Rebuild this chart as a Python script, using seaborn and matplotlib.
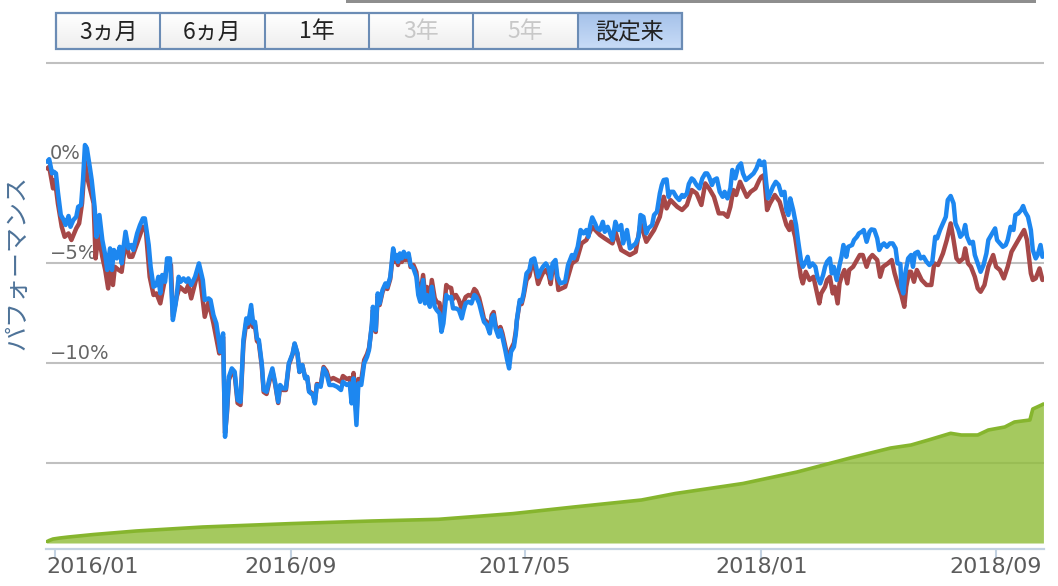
import numpy as np
import pandas as pd
import matplotlib
matplotlib.use("Agg")
import matplotlib.pyplot as plt
import matplotlib.dates as mdates
from matplotlib.transforms import blended_transform_factory
from matplotlib.patches import Rectangle
import seaborn as sns

# ---- data (days since 2016-01-01, performance in %) ----
blue_day = [
    -8, -6, -3, -1, 1, 3, 6, 9, 11, 14,
    16, 19, 22, 24, 27, 29, 31, 33, 36, 38,
    41, 43, 46, 49, 52, 54, 57, 59, 61, 64,
    67, 69, 71, 73, 76, 79, 81, 85, 88, 91,
    93, 97, 99, 102, 105, 107, 109, 111, 114, 116,
    119, 122, 125, 128, 130, 133, 136, 138, 141, 145,
    149, 153, 155, 159, 161, 164, 167, 170, 171, 174,
    176, 178, 180, 183, 186, 189, 192, 195, 198, 200,
    203, 205, 207, 209, 211, 214, 216, 219, 222, 225,
    228, 231, 233, 236, 239, 242, 246, 248, 251, 253,
    256, 259, 261, 263, 267, 269, 271, 275, 278, 281,
    284, 288, 292, 296, 298, 302, 305, 307, 309, 312,
    314, 317, 320, 323, 325, 328, 329, 332, 334, 336,
    339, 342, 344, 347, 350, 352, 354, 355, 357, 359,
    361, 363, 366, 368, 371, 374, 376, 378, 381, 383,
    385, 388, 390, 393, 395, 398, 400, 402, 405, 407,
    410, 412, 415, 418, 421, 423, 425, 428, 431, 434,
    436, 439, 442, 444, 447, 450, 452, 454, 456, 459,
    461, 463, 466, 468, 470, 472, 475, 477, 478, 481,
    483, 485, 488, 491, 493, 496, 498, 500, 503, 505,
    508, 511, 513, 515, 518, 520, 523, 528, 531, 535,
    537, 541, 544, 547, 550, 552, 554, 556, 559, 561,
    564, 567, 569, 572, 574, 577, 580, 583, 586, 588,
    590, 592, 595, 599, 601, 604, 606, 609, 612, 614,
    618, 620, 623, 626, 628, 630, 633, 635, 637, 640,
    643, 646, 649, 651, 654, 656, 659, 661, 664, 667,
    670, 673, 675, 677, 680, 682, 685, 688, 691, 693,
    696, 699, 701, 704, 707, 710, 712, 715, 719, 723,
    726, 729, 731, 734, 736, 738, 741, 743, 746, 749,
    752, 755, 757, 759, 761, 764, 767, 769, 772, 774,
    777, 779, 781, 784, 787, 789, 792, 795, 797, 799,
    802, 804, 806, 809, 812, 814, 816, 819, 821, 825,
    827, 830, 832, 835, 837, 840, 843, 845, 848, 851,
    853, 856, 858, 861, 864, 867, 870, 872, 875, 876,
    878, 880, 883, 886, 888, 890, 893, 896, 899, 902,
    905, 908, 911, 913, 916, 919, 922, 924, 927, 930,
    932, 935, 937, 940, 942, 944, 947, 950, 952, 955,
    958, 961, 964, 966, 969, 973, 975, 978, 981, 984,
    986, 989, 992, 994, 997, 1000, 1002, 1004, 1007, 1010,
    1012, 1015, 1017, 1020, 1022,
]
blue_pct = [
    0.07, 0.19, -0.52, -0.44, -0.52, -1.44, -2.6, -2.85, -3.1, -2.65,
    -3.19, -2.85, -2.69, -2.19, -2.1, -0.85, 0.9, 0.74, -0.19, -0.85,
    -2.19, -3.69, -2.6, -3.85, -4.6, -5.35, -4.27, -5.35, -4.35, -4.77,
    -4.19, -5.02, -4.19, -3.44, -4.27, -4.1, -4.35, -3.52, -3.1, -2.77,
    -2.77, -4.1, -5.19, -6.19, -6.1, -5.69, -6.52, -5.6, -5.94, -4.77,
    -4.77, -7.85, -7.02, -5.69, -5.94, -5.77, -5.94, -5.77, -6.1, -5.69,
    -5.02, -5.85, -6.85, -6.77, -6.85, -7.6, -8.02, -9.02, -9.44, -8.52,
    -13.69, -12.35, -10.69, -10.27, -10.44, -11.85, -11.94, -8.85, -7.77, -8.02,
    -7.1, -8.02, -7.94, -8.77, -8.85, -10.02, -11.35, -11.44, -10.77, -10.27,
    -11.02, -11.94, -11.1, -11.27, -11.27, -10.02, -9.52, -9.02, -9.52, -10.44,
    -10.1, -10.77, -10.69, -11.44, -11.6, -12.02, -11.1, -11.19, -10.27, -10.52,
    -11.1, -11.1, -11.19, -11.35, -10.94, -11.1, -11.02, -12.02, -10.77, -13.1,
    -11.02, -11.1, -10.02, -9.69, -9.35, -8.02, -7.19, -8.35, -6.52, -7.02,
    -6.35, -6.02, -6.19, -5.7, -4.27, -4.77, -4.6, -4.94, -4.52, -4.77,
    -4.44, -4.69, -4.52, -5.1, -5.27, -5.69, -6.6, -6.94, -5.85, -7.02,
    -6.6, -7.19, -6.19, -7.19, -7.35, -7.52, -8.44, -8.02, -6.6, -6.77,
    -6.69, -7.27, -7.27, -7.35, -7.77, -7.35, -7.02, -6.94, -7.02, -6.6,
    -6.69, -7.02, -7.6, -7.94, -8.1, -8.52, -7.77, -7.6, -8.27, -8.69,
    -8.35, -8.69, -9.35, -9.85, -10.27, -9.44, -9.19, -8.52, -7.85, -6.85,
    -6.94, -6.52, -5.52, -5.35, -4.85, -4.77, -5.19, -5.69, -5.35, -5.19,
    -5.02, -5.27, -5.77, -5.02, -4.85, -5.69, -6.02, -5.94, -5.1, -4.6,
    -4.77, -4.19, -3.35, -3.52, -3.35, -3.69, -3.1, -2.72, -3.02, -3.27,
    -3.35, -2.94, -3.44, -3.19, -3.44, -3.85, -2.94, -3.35, -3.1, -4.02,
    -3.69, -3.35, -4.27, -4.1, -4.02, -3.69, -2.6, -2.69, -3.52, -3.27,
    -3.1, -2.6, -2.44, -1.52, -1.1, -0.85, -0.82, -1.69, -1.44, -1.44,
    -1.69, -1.85, -1.6, -1.69, -1.52, -1.05, -0.77, -0.85, -1.1, -1.27,
    -0.77, -0.52, -0.52, -0.69, -1.1, -0.85, -0.77, -1.44, -1.69, -1.44,
    -1.77, -1.27, -0.35, -0.77, -0.19, -0.02, -0.52, -0.85, -0.69, -0.52,
    -0.27, 0.12, -0.1, 0.07, -0.94, -1.77, -1.44, -1.19, -0.94, -1.1,
    -1.6, -1.44, -2.35, -2.6, -1.77, -2.35, -3.1, -3.85, -4.85, -5.19,
    -4.94, -4.69, -5.19, -5.02, -5.19, -5.69, -6.02, -5.6, -5.19, -4.94,
    -4.77, -5.52, -5.19, -5.85, -5.1, -4.69, -4.1, -4.69, -4.19, -4.1,
    -3.85, -3.69, -3.52, -3.44, -3.35, -3.94, -3.44, -3.32, -3.35, -3.77,
    -4.35, -4.1, -4.02, -4.19, -4.02, -4.02, -4.27, -5.02, -5.05, -6.19,
    -6.52, -5.52, -4.77, -4.6, -5.19, -4.52, -4.44, -4.77, -4.69, -4.94,
    -5.1, -4.94, -3.69, -3.77, -3.35, -3.02, -2.69, -1.85, -1.65, -2.02,
    -3.02, -3.35, -3.69, -3.52, -3.1, -3.69, -4.02, -3.94, -4.6, -5.02,
    -5.44, -5.1, -4.52, -3.85, -3.6, -3.27, -3.85, -4.02, -4.19, -4.1,
    -3.85, -3.19, -3.35, -2.6, -2.52, -2.35, -2.15, -2.44, -2.69, -3.35,
    -4.35, -4.77, -4.6, -4.1, -4.69,
]

red_day = [
    -8, -6, -2, 0, 3, 7, 10, 14, 17, 22,
    25, 28, 31, 34, 40, 42, 45, 49, 52, 55,
    57, 60, 62, 66, 69, 73, 77, 80, 85, 91,
    94, 98, 102, 105, 109, 113, 116, 120, 122, 126,
    129, 135, 138, 141, 149, 155, 159, 164, 170, 174,
    176, 178, 180, 183, 186, 189, 192, 195, 198, 200,
    203, 205, 207, 209, 211, 214, 216, 219, 222, 225,
    228, 231, 233, 236, 239, 242, 246, 248, 251, 253,
    256, 259, 261, 263, 267, 269, 271, 275, 278, 281,
    284, 288, 292, 296, 298, 302, 305, 307, 309, 312,
    314, 317, 320, 323, 325, 328, 329, 332, 334, 336,
    339, 342, 344, 347, 350, 352, 354, 355, 357, 359,
    361, 363, 366, 368, 371, 374, 376, 378, 381, 383,
    385, 388, 390, 393, 395, 398, 400, 402, 405, 407,
    410, 412, 415, 418, 421, 423, 425, 428, 431, 434,
    436, 439, 442, 444, 447, 450, 452, 454, 456, 459,
    461, 463, 466, 468, 470, 472, 475, 477, 478, 481,
    483, 485, 488, 491, 493, 496, 498, 500, 503, 505,
    508, 511, 513, 515, 518, 521, 528, 535, 540, 545,
    550, 556, 564, 569, 577, 580, 586, 595, 601, 606,
    612, 620, 626, 630, 633, 637, 644, 649, 654, 659,
    664, 669, 673, 677, 682, 687, 692, 696, 699, 702,
    705, 709, 712, 716, 720, 725, 729, 731, 734, 737,
    740, 745, 750, 754, 757, 760, 762, 766, 769, 772,
    774, 777, 781, 785, 788, 791, 793, 797, 799, 802,
    805, 807, 810, 812, 814, 817, 820, 822, 826, 830,
    833, 836, 840, 843, 846, 851, 854, 857, 862, 866,
    869, 872, 876, 879, 881, 884, 886, 889, 892, 897,
    902, 907, 910, 914, 919, 923, 927, 930, 933, 936,
    940, 942, 945, 948, 952, 955, 958, 962, 966, 971,
    974, 978, 982, 986, 990, 994, 998, 1003, 1006, 1010,
    1012, 1015, 1019, 1022,
]
red_pct = [
    -0.27, -0.19, -1.27, -0.85, -2.02, -3.19, -3.69, -3.52, -3.85, -3.27,
    -3.02, -2.02, 0.07, -0.85, -2.02, -4.77, -3.6, -4.69, -5.35, -6.27,
    -5.35, -6.1, -5.19, -5.35, -5.44, -3.94, -4.69, -4.69, -4.02, -3.19,
    -3.35, -5.69, -6.6, -6.52, -7.02, -6.02, -5.1, -5.1, -7.69, -6.69,
    -6.19, -6.44, -6.1, -6.77, -5.27, -7.69, -6.94, -8.02, -9.52, -8.7,
    -13.5, -12.5, -10.85, -10.45, -10.6, -12.0, -12.1, -9.05, -7.95, -8.2,
    -7.3, -8.2, -8.1, -8.9, -9.0, -10.15, -11.45, -11.55, -10.9, -10.4,
    -11.1, -12.0, -11.2, -11.35, -11.35, -10.1, -9.55, -9.05, -9.55, -10.45,
    -10.1, -10.75, -10.7, -11.4, -11.55, -11.95, -11.05, -11.1, -10.2, -10.4,
    -10.85, -10.75, -10.85, -10.95, -10.65, -10.8, -10.75, -11.6, -10.5, -12.6,
    -10.8, -10.85, -9.85, -9.55, -9.25, -8.15, -7.35, -8.45, -6.65, -7.1,
    -6.45, -6.1, -6.3, -5.8, -4.45, -4.95, -4.8, -5.1, -4.7, -4.95,
    -4.6, -4.85, -4.65, -5.2, -5.1, -5.45, -6.3, -6.6, -5.6, -6.6,
    -6.2, -6.8, -5.85, -6.75, -6.95, -7.0, -7.9, -7.6, -6.1, -6.2,
    -6.25, -6.8, -6.6, -6.85, -7.3, -6.95, -6.7, -6.6, -6.65, -6.3,
    -6.4, -6.75, -7.35, -7.8, -7.95, -8.35, -7.6, -7.45, -8.1, -8.5,
    -8.2, -8.5, -9.15, -9.6, -9.9, -9.3, -9.0, -8.4, -7.9, -6.95,
    -7.05, -6.65, -5.85, -5.65, -5.2, -5.1, -5.55, -6.05, -5.7, -5.5,
    -5.35, -5.6, -6.05, -5.3, -5.15, -6.35, -6.19, -5.02, -4.85, -4.02,
    -3.85, -3.19, -3.6, -3.77, -4.02, -3.44, -4.35, -4.6, -4.44, -3.02,
    -3.94, -3.35, -2.69, -1.69, -2.27, -1.85, -2.19, -2.35, -2.1, -1.35,
    -1.52, -2.1, -1.02, -1.27, -1.69, -2.52, -2.52, -2.69, -2.19, -1.35,
    -1.6, -0.94, -1.27, -1.69, -1.44, -1.27, -0.85, -0.69, -0.6, -2.35,
    -2.02, -1.6, -1.94, -2.6, -3.1, -3.35, -2.94, -3.69, -4.69, -5.69,
    -6.02, -5.44, -5.85, -5.69, -6.35, -7.02, -6.52, -6.19, -5.85, -5.69,
    -6.52, -6.19, -7.02, -6.02, -5.69, -5.35, -6.02, -5.35, -5.19, -4.85,
    -4.6, -4.6, -5.19, -4.77, -4.6, -4.85, -5.69, -5.19, -5.02, -4.85,
    -5.52, -6.02, -6.6, -7.19, -6.19, -5.44, -5.44, -5.94, -5.35, -5.85,
    -6.1, -6.1, -5.02, -5.1, -4.52, -3.85, -3.02, -3.85, -4.77, -4.94,
    -4.77, -4.27, -5.02, -5.19, -5.69, -6.27, -6.44, -6.1, -5.19, -4.6,
    -5.19, -5.35, -5.77, -5.19, -4.44, -4.1, -3.77, -3.35, -3.85, -5.52,
    -5.85, -5.77, -5.27, -5.85,
]

# net assets (second axis, arbitrary units)
green_day = [-9, -6, -2, 5, 14, 40, 84, 153, 244, 328,
             397, 474, 537, 607, 642, 712, 768, 823, 865, 886,
             904, 927, 938, 955, 966, 983, 993, 1009, 1012, 1021, 1023]
green_val = [0.1, 0.25, 0.4, 0.5, 0.6, 0.85, 1.2, 1.6, 1.94, 2.2,
             2.37, 2.94, 3.6, 4.3, 4.95, 5.95, 7.1, 8.5, 9.5, 9.8,
             10.3, 10.97, 10.8, 10.8, 11.3, 11.6, 12.1, 12.3, 13.4, 13.8, 13.9]

grid_vals = [5, 0, -5, -10, -15]
ylabel_vals = [0, -5, -10]
ylabel_text = ["0%", "−5%", "−10%"]
tick_dates = ["2016-01-01", "2016-09-01", "2017-05-01", "2018-01-01", "2018-09-01"]
tick_labels = ["2016/01", "2016/09", "2017/05", "2018/01", "2018/09"]
buttons = ["3ヵ月", "6ヵ月", "1年", "3年", "5年", "設定来"]
button_state = ["on", "on", "on", "off", "off", "sel"]

BLUE = "#1d87f0"
RED = "#a64848"

sns.set_style("white")
plt.rcParams["font.family"] = ["DejaVu Sans", "Noto Sans CJK JP"]
JP = ["Noto Sans CJK JP", "DejaVu Sans"]

base = pd.Timestamp("2016-01-01")


def to_dates(days):
    return base + pd.to_timedelta(days, unit="D")


W, H = 1058, 586
fig = plt.figure(figsize=(W / 100, H / 100), dpi=100)
ax = fig.add_axes([46 / W, 1 - 543 / H, 998 / W, 482 / H])

sns.lineplot(x=to_dates(red_day), y=red_pct, ax=ax, color=RED, linewidth=3.2,
             estimator=None, sort=False)
sns.lineplot(x=to_dates(blue_day), y=blue_pct, ax=ax, color=BLUE, linewidth=3.2,
             estimator=None, sort=False)
ax.set_xlabel("")
ax.set_ylabel("")
ax.set_ylim(-19.0, 5.1)
ax.set_xlim(to_dates([-9.3, 1023.6]))
ax.set_yticks(grid_vals)
ax.set_yticklabels([])
ax.yaxis.grid(True, color="#c0c0c0", linewidth=1.5)
ax.xaxis.grid(False)
ax.tick_params(axis="y", length=0)
ax.set_xticks(pd.to_datetime(tick_dates))
ax.tick_params(axis="x", bottom=True, direction="out", length=7, width=1.5,
               color="#c3d2e2", labelbottom=False)
for s in ["top", "left", "right"]:
    ax.spines[s].set_visible(False)
ax.spines["bottom"].set_position(("outward", 4.3))
ax.spines["bottom"].set_color("#c3d2e2")
ax.spines["bottom"].set_linewidth(1.6)

# y labels inside the plot, above the grid lines
ytr = blended_transform_factory(ax.transAxes, ax.transData)
for v, s in zip(ylabel_vals, ylabel_text):
    ax.text(0.004, v + 0.22, s, transform=ytr, ha="left", va="baseline",
            fontsize=14, color="#666666", zorder=1)

# x tick labels
xtr = blended_transform_factory(ax.transData, ax.transAxes)
for i, (d, s) in enumerate(zip(tick_dates, tick_labels)):
    xnum = mdates.date2num(pd.Timestamp(d))
    ha = "center"
    if i == 0:
        xnum = mdates.date2num(to_dates([-8.8])[0])
        ha = "left"
    ax.text(xnum, -(557 - 543) / 482, s, transform=xtr, ha=ha, va="top",
            fontsize=16, color="#5c5c5c")

# net assets area on a second axis
ax2 = ax.twinx()
gd = to_dates(green_day)
ax2.fill_between(gd, green_val, 0, color=(145 / 255, 189 / 255, 60 / 255),
                 alpha=0.82, linewidth=0)
ax2.plot(gd, green_val, color="#86b52e", linewidth=2.6)
ax2.set_ylim(0, 48.2)
ax2.set_yticks([])
for s in ax2.spines.values():
    s.set_visible(False)

# decorations in pixel coordinates
deco = fig.add_axes([0, 0, 1, 1], zorder=5)
deco.patch.set_visible(False)
deco.set_axis_off()

deco.add_patch(Rectangle((346, 0), 690, 2.6, color="#8e8e8e", lw=0))

bx0, bx1, by0, by1 = 56, 682, 13, 49
bw = (bx1 - bx0) / len(buttons)
grad = np.linspace(0, 1, 32)[:, None, None]
for i, (label, st) in enumerate(zip(buttons, button_state)):
    x0 = bx0 + i * bw
    if st == "sel":
        top, bot = np.array([166, 194, 234]), np.array([200, 220, 247])
        tc = "#222222"
    else:
        top, bot = np.array([255, 255, 255]), np.array([238, 238, 238])
        tc = "#222222" if st == "on" else "#c8c8c8"
    img = (top + (bot - top) * grad) / 255.0
    deco.imshow(img, extent=[x0, x0 + bw, by1, by0], aspect="auto", zorder=1)
    deco.text(x0 + bw / 2, (by0 + by1) / 2 + 1, label, ha="center", va="center",
              fontsize=16.5, color=tc, family=JP, zorder=3)
    if i > 0:
        deco.plot([x0, x0], [by0, by1], color="#6b8cb5", lw=1.5, zorder=2)
deco.add_patch(Rectangle((bx0, by0), bx1 - bx0, by1 - by0, fill=False,
                         edgecolor="#6b8cb5", lw=1.6, zorder=2))

deco.text(17.5, 262, "パフォーマンス", rotation=90, ha="center", va="center",
          fontsize=18, color="#4d7298", family=JP)

deco.set_xlim(0, W)
deco.set_ylim(H, 0)

fig.savefig("out.png", dpi=100)
